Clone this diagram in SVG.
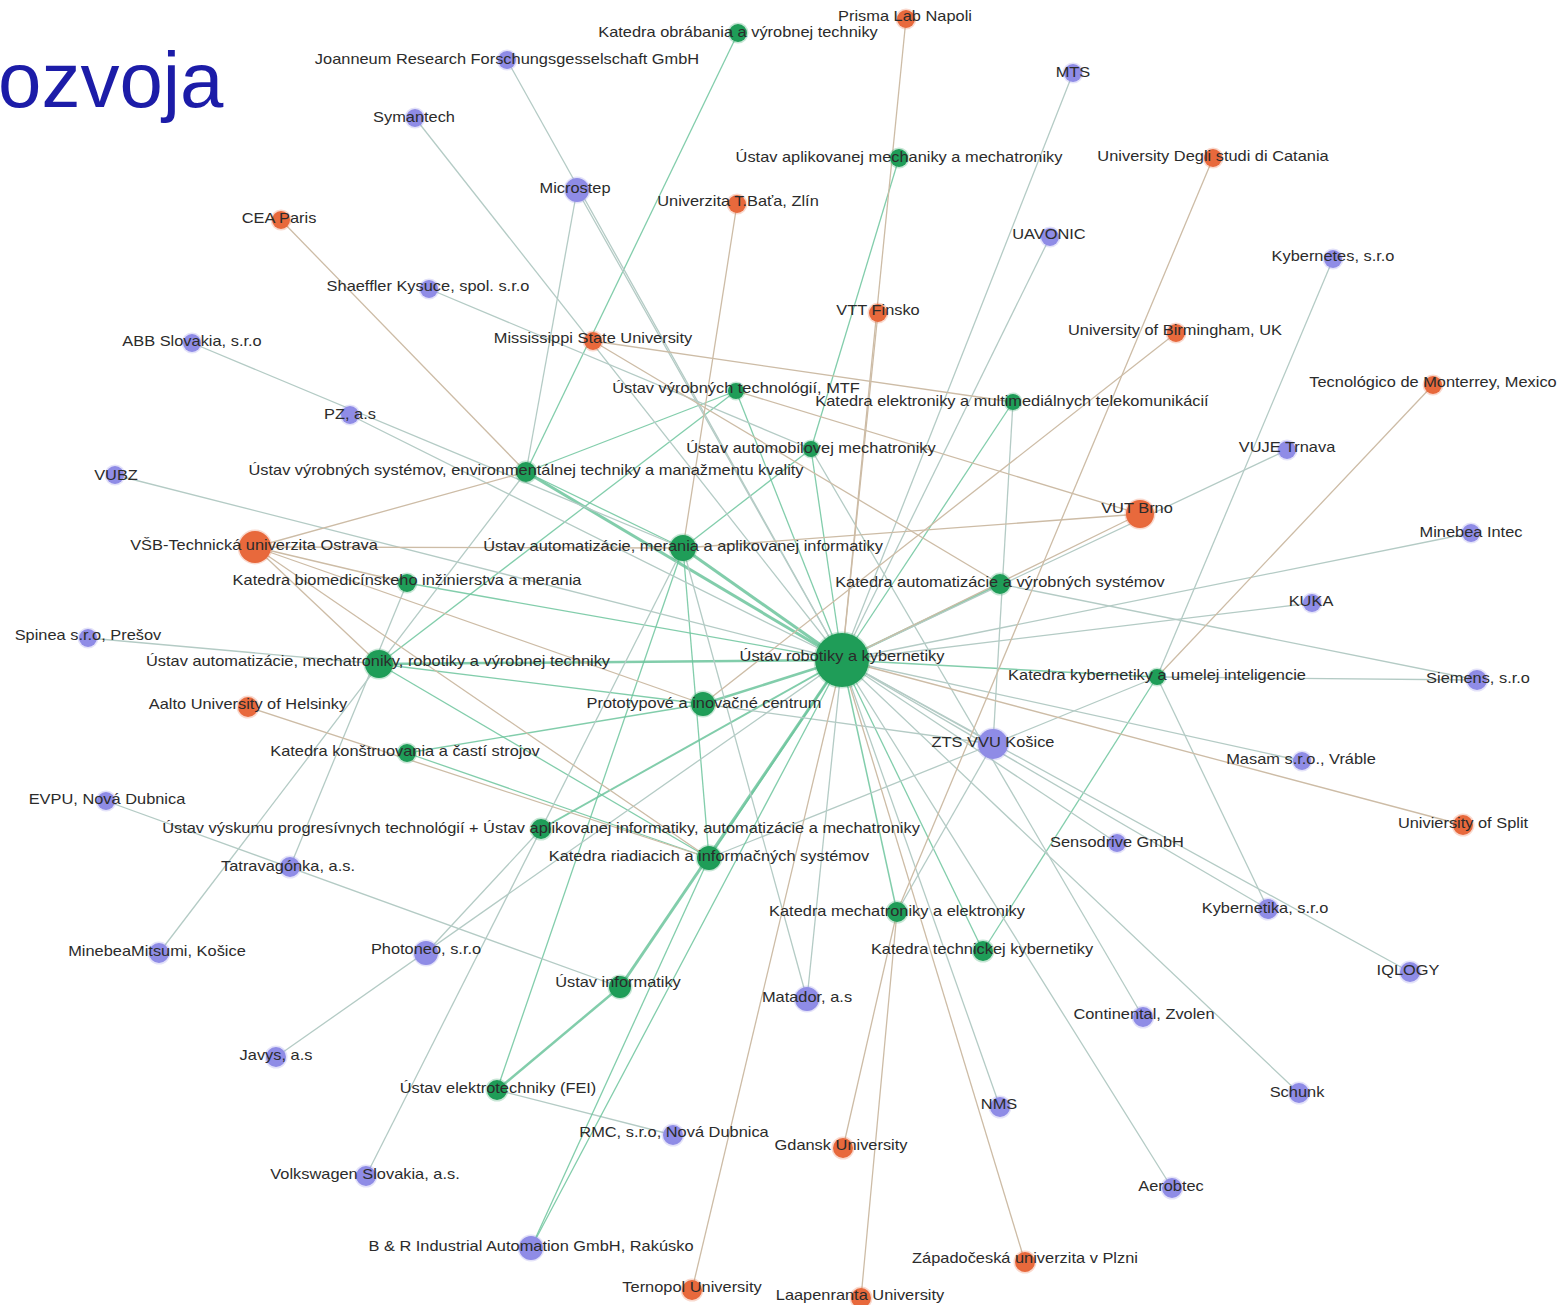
<svg xmlns="http://www.w3.org/2000/svg" width="1560" height="1305" viewBox="0 0 1560 1305">
<style>
.gg{stroke:#6cc49c;stroke-opacity:.85;stroke-width:1.3}
.gb{stroke:#b4cbc5;stroke-width:1.3}
.go{stroke:#cdbca6;stroke-width:1.3}
.ng{fill:#1f9d58;stroke:#1f9d58;stroke-opacity:.25;stroke-width:3}
.nb{fill:#8f8ce6;stroke:#8f8ce6;stroke-opacity:.25;stroke-width:3}
.no{fill:#e8693c;stroke:#e8693c;stroke-opacity:.25;stroke-width:3}
.lb{font-family:"Liberation Sans",Arial,sans-serif;font-size:14.5px;fill:#2b2b2b;text-anchor:middle}
.title{font-family:"Liberation Sans",Arial,sans-serif;font-size:78px;fill:#1c1ca8}
</style>
<rect width="1560" height="1305" fill="#ffffff"/>
<text class="title" x="-2" y="107">ozvoja</text>
<g id="connectors">
<line class="gg" style="stroke-width:3" x1="842" y1="660" x2="526" y2="472"/>
<line class="gg" style="stroke-width:3" x1="842" y1="660" x2="683" y2="548"/>
<line class="gg" style="stroke-width:2.5" x1="842" y1="660" x2="379" y2="664"/>
<line class="gg" style="stroke-width:2.5" x1="842" y1="660" x2="703" y2="704"/>
<line class="gg" style="stroke-width:3" x1="842" y1="660" x2="620" y2="987"/>
<line class="gg" style="stroke-width:2.5" x1="620" y1="987" x2="497" y2="1090"/>
<line class="gg" style="stroke-width:2" x1="842" y1="660" x2="541" y2="829"/>
<line class="gg" style="stroke-width:2" x1="842" y1="660" x2="1000" y2="584"/>
<line class="gg" style="stroke-width:1.5" x1="842" y1="660" x2="1157" y2="677"/>
<line class="gg" style="stroke-width:1.5" x1="842" y1="660" x2="709" y2="858"/>
<line class="gg" style="stroke-width:1.5" x1="842" y1="660" x2="897" y2="912"/>
<line class="gg" x1="842" y1="660" x2="811" y2="449"/>
<line class="gg" x1="842" y1="660" x2="407" y2="583"/>
<line class="gg" x1="842" y1="660" x2="983" y2="951"/>
<line class="gg" x1="842" y1="660" x2="736" y2="391"/>
<line class="gg" x1="842" y1="660" x2="1013" y2="402"/>
<line class="gg" x1="738" y1="33" x2="526" y2="472"/>
<line class="gg" x1="899" y1="158" x2="811" y2="449"/>
<line class="gg" x1="736" y1="391" x2="526" y2="472"/>
<line class="gg" x1="736" y1="391" x2="379" y2="664"/>
<line class="gg" x1="811" y1="449" x2="683" y2="548"/>
<line class="gg" x1="526" y1="472" x2="683" y2="548"/>
<line class="gg" x1="683" y1="548" x2="497" y2="1090"/>
<line class="gg" x1="683" y1="548" x2="709" y2="858"/>
<line class="gg" x1="379" y1="664" x2="703" y2="704"/>
<line class="gg" x1="379" y1="664" x2="709" y2="858"/>
<line class="gg" x1="407" y1="753" x2="703" y2="704"/>
<line class="gg" x1="407" y1="753" x2="709" y2="858"/>
<line class="gg" x1="1157" y1="677" x2="983" y2="951"/>
<line class="gb" x1="507" y1="60" x2="842" y2="660"/>
<line class="gb" x1="415" y1="118" x2="842" y2="660"/>
<line class="gb" x1="577" y1="190" x2="842" y2="660"/>
<line class="gb" x1="577" y1="190" x2="526" y2="472"/>
<line class="gb" x1="429" y1="289" x2="811" y2="449"/>
<line class="gb" x1="192" y1="343" x2="683" y2="548"/>
<line class="gb" x1="350" y1="415" x2="842" y2="660"/>
<line class="gb" x1="115" y1="475" x2="842" y2="660"/>
<line class="gb" x1="1073" y1="73" x2="842" y2="660"/>
<line class="gb" x1="1050" y1="237" x2="842" y2="660"/>
<line class="gb" x1="1333" y1="259" x2="1157" y2="677"/>
<line class="gb" x1="1287" y1="450" x2="842" y2="660"/>
<line class="gb" x1="1471" y1="533" x2="842" y2="660"/>
<line class="gb" x1="1312" y1="603" x2="842" y2="660"/>
<line class="gb" x1="1477" y1="680" x2="1157" y2="677"/>
<line class="gb" x1="1477" y1="680" x2="1000" y2="584"/>
<line class="gb" x1="88" y1="638" x2="379" y2="664"/>
<line class="gb" x1="993" y1="744" x2="842" y2="660"/>
<line class="gb" x1="993" y1="744" x2="1013" y2="402"/>
<line class="gb" x1="993" y1="744" x2="1157" y2="677"/>
<line class="gb" x1="993" y1="744" x2="703" y2="704"/>
<line class="gb" x1="993" y1="744" x2="709" y2="858"/>
<line class="gb" x1="993" y1="744" x2="897" y2="912"/>
<line class="gb" x1="1302" y1="761" x2="842" y2="660"/>
<line class="gb" x1="106" y1="801" x2="620" y2="987"/>
<line class="gb" x1="1117" y1="843" x2="842" y2="660"/>
<line class="gb" x1="290" y1="867" x2="407" y2="583"/>
<line class="gb" x1="1268" y1="909" x2="1157" y2="677"/>
<line class="gb" x1="1268" y1="909" x2="842" y2="660"/>
<line class="gb" x1="159" y1="953" x2="526" y2="472"/>
<line class="gb" x1="426" y1="953" x2="541" y2="829"/>
<line class="gb" x1="1410" y1="972" x2="842" y2="660"/>
<line class="gb" x1="807" y1="999" x2="842" y2="660"/>
<line class="gb" x1="807" y1="999" x2="683" y2="548"/>
<line class="gb" x1="1143" y1="1017" x2="811" y2="449"/>
<line class="gb" x1="276" y1="1057" x2="842" y2="660"/>
<line class="gb" x1="1000" y1="1107" x2="842" y2="660"/>
<line class="gb" x1="1299" y1="1093" x2="842" y2="660"/>
<line class="gb" x1="673" y1="1135" x2="497" y2="1090"/>
<line class="gb" x1="366" y1="1176" x2="683" y2="548"/>
<line class="gb" x1="1172" y1="1188" x2="842" y2="660"/>
<line class="gg" x1="531" y1="1248" x2="709" y2="858"/>
<line class="gg" x1="531" y1="1248" x2="842" y2="660"/>
<line class="go" x1="906" y1="19" x2="842" y2="660"/>
<line class="go" x1="1213" y1="158" x2="897" y2="912"/>
<line class="go" x1="737" y1="204" x2="683" y2="548"/>
<line class="go" x1="281" y1="220" x2="526" y2="472"/>
<line class="go" x1="878" y1="313" x2="842" y2="660"/>
<line class="go" x1="593" y1="341" x2="1013" y2="402"/>
<line class="go" x1="593" y1="341" x2="1000" y2="584"/>
<line class="go" x1="1176" y1="333" x2="703" y2="704"/>
<line class="go" x1="1433" y1="385" x2="1157" y2="677"/>
<line class="go" x1="1140" y1="514" x2="736" y2="391"/>
<line class="go" x1="1140" y1="514" x2="683" y2="548"/>
<line class="go" x1="1140" y1="514" x2="842" y2="660"/>
<line class="go" x1="255" y1="547" x2="526" y2="472"/>
<line class="go" x1="255" y1="547" x2="683" y2="548"/>
<line class="go" x1="255" y1="547" x2="379" y2="664"/>
<line class="go" x1="255" y1="547" x2="703" y2="704"/>
<line class="go" x1="255" y1="547" x2="709" y2="858"/>
<line class="go" x1="255" y1="547" x2="407" y2="583"/>
<line class="go" x1="248" y1="707" x2="709" y2="858"/>
<line class="go" x1="1463" y1="825" x2="842" y2="660"/>
<line class="go" x1="843" y1="1148" x2="897" y2="912"/>
<line class="go" x1="1025" y1="1262" x2="842" y2="660"/>
<line class="go" x1="692" y1="1290" x2="842" y2="660"/>
<line class="go" x1="861" y1="1298" x2="897" y2="912"/>
</g>
<g id="n-obrabania"><circle class="ng" cx="738" cy="33" r="9"/><text class="lb" transform="translate(738,37) scale(1.13,1)">Katedra obrábania a výrobnej techniky</text></g>
<g id="n-aplmech"><circle class="ng" cx="899" cy="158" r="9"/><text class="lb" transform="translate(899,162) scale(1.13,1)">Ústav aplikovanej mechaniky a mechatroniky</text></g>
<g id="n-mtf"><circle class="ng" cx="736" cy="391" r="8"/><text class="lb" transform="translate(736,393) scale(1.13,1)">Ústav výrobných technológií, MTF</text></g>
<g id="n-elektroniky"><circle class="ng" cx="1013" cy="402" r="8"/><text class="lb" transform="translate(1012,406) scale(1.13,1)">Katedra elektroniky a multimediálnych telekomunikácií</text></g>
<g id="n-automob"><circle class="ng" cx="811" cy="449" r="8"/><text class="lb" transform="translate(811,453) scale(1.13,1)">Ústav automobilovej mechatroniky</text></g>
<g id="n-vyrsys"><circle class="ng" cx="526" cy="472" r="10"/><text class="lb" transform="translate(526,475) scale(1.13,1)">Ústav výrobných systémov, environmentálnej techniky a manažmentu kvality</text></g>
<g id="n-autmer"><circle class="ng" cx="683" cy="548" r="13"/><text class="lb" transform="translate(683,551) scale(1.13,1)">Ústav automatizácie, merania a aplikovanej informatiky</text></g>
<g id="n-biomed"><circle class="ng" cx="407" cy="583" r="9"/><text class="lb" transform="translate(407,585) scale(1.13,1)">Katedra biomedicínskeho inžinierstva a merania</text></g>
<g id="n-autvyr"><circle class="ng" cx="1000" cy="584" r="10"/><text class="lb" transform="translate(1000,587) scale(1.13,1)">Katedra automatizácie a výrobných systémov</text></g>
<g id="n-autmech"><circle class="ng" cx="379" cy="664" r="14"/><text class="lb" transform="translate(378,666) scale(1.13,1)">Ústav automatizácie, mechatroniky, robotiky a výrobnej techniky</text></g>
<g id="n-robotiky"><circle class="ng" cx="842" cy="660" r="27"/><text class="lb" transform="translate(842,661) scale(1.13,1)">Ústav robotiky a kybernetiky</text></g>
<g id="n-proto"><circle class="ng" cx="703" cy="704" r="12"/><text class="lb" transform="translate(704,708) scale(1.13,1)">Prototypové a inovačné centrum</text></g>
<g id="n-kyber"><circle class="ng" cx="1157" cy="677" r="8"/><text class="lb" transform="translate(1157,680) scale(1.13,1)">Katedra kybernetiky a umelej inteligencie</text></g>
<g id="n-konstr"><circle class="ng" cx="407" cy="753" r="9"/><text class="lb" transform="translate(405,756) scale(1.13,1)">Katedra konštruovania a častí strojov</text></g>
<g id="n-vyskum"><circle class="ng" cx="541" cy="829" r="10"/><text class="lb" transform="translate(541,833) scale(1.13,1)">Ústav výskumu progresívnych technológií + Ústav aplikovanej informatiky, automatizácie a mechatroniky</text></g>
<g id="n-riad"><circle class="ng" cx="709" cy="858" r="12"/><text class="lb" transform="translate(709,861) scale(1.13,1)">Katedra riadiacich a informačných systémov</text></g>
<g id="n-mechel"><circle class="ng" cx="897" cy="912" r="10"/><text class="lb" transform="translate(897,916) scale(1.13,1)">Katedra mechatroniky a elektroniky</text></g>
<g id="n-techkyb"><circle class="ng" cx="983" cy="951" r="10"/><text class="lb" transform="translate(982,954) scale(1.13,1)">Katedra technickej kybernetiky</text></g>
<g id="n-inform"><circle class="ng" cx="620" cy="987" r="11"/><text class="lb" transform="translate(618,987) scale(1.13,1)">Ústav informatiky</text></g>
<g id="n-elektrot"><circle class="ng" cx="497" cy="1090" r="10"/><text class="lb" transform="translate(498,1093) scale(1.13,1)">Ústav elektrotechniky (FEI)</text></g>
<g id="n-joan"><circle class="nb" cx="507" cy="60" r="9"/><text class="lb" transform="translate(507,64) scale(1.13,1)">Joanneum Research Forschungsgesselschaft GmbH</text></g>
<g id="n-sym"><circle class="nb" cx="415" cy="118" r="9"/><text class="lb" transform="translate(414,122) scale(1.13,1)">Symantech</text></g>
<g id="n-micro"><circle class="nb" cx="577" cy="190" r="12"/><text class="lb" transform="translate(575,193) scale(1.13,1)">Microstep</text></g>
<g id="n-shaef"><circle class="nb" cx="429" cy="289" r="9"/><text class="lb" transform="translate(428,291) scale(1.13,1)">Shaeffler Kysuce, spol. s.r.o</text></g>
<g id="n-abb"><circle class="nb" cx="192" cy="343" r="9"/><text class="lb" transform="translate(192,346) scale(1.13,1)">ABB Slovakia, s.r.o</text></g>
<g id="n-pz"><circle class="nb" cx="350" cy="415" r="9"/><text class="lb" transform="translate(350,419) scale(1.13,1)">PZ, a.s</text></g>
<g id="n-vubz"><circle class="nb" cx="115" cy="475" r="9"/><text class="lb" transform="translate(116,480) scale(1.13,1)">VUBZ</text></g>
<g id="n-mts"><circle class="nb" cx="1073" cy="73" r="9"/><text class="lb" transform="translate(1073,77) scale(1.13,1)">MTS</text></g>
<g id="n-uav"><circle class="nb" cx="1050" cy="237" r="9"/><text class="lb" transform="translate(1049,239) scale(1.13,1)">UAVONIC</text></g>
<g id="n-kybs"><circle class="nb" cx="1333" cy="259" r="9"/><text class="lb" transform="translate(1333,261) scale(1.13,1)">Kybernetes, s.r.o</text></g>
<g id="n-vuje"><circle class="nb" cx="1287" cy="450" r="9"/><text class="lb" transform="translate(1287,452) scale(1.13,1)">VUJE Trnava</text></g>
<g id="n-minint"><circle class="nb" cx="1471" cy="533" r="9"/><text class="lb" transform="translate(1471,537) scale(1.13,1)">Minebea Intec</text></g>
<g id="n-kuka"><circle class="nb" cx="1312" cy="603" r="9"/><text class="lb" transform="translate(1311,606) scale(1.13,1)">KUKA</text></g>
<g id="n-siem"><circle class="nb" cx="1477" cy="680" r="10"/><text class="lb" transform="translate(1478,683) scale(1.13,1)">Siemens, s.r.o</text></g>
<g id="n-spin"><circle class="nb" cx="88" cy="638" r="9"/><text class="lb" transform="translate(88,640) scale(1.13,1)">Spinea s.r.o, Prešov</text></g>
<g id="n-zts"><circle class="nb" cx="993" cy="744" r="15"/><text class="lb" transform="translate(993,747) scale(1.13,1)">ZTS VVU Košice</text></g>
<g id="n-masam"><circle class="nb" cx="1302" cy="761" r="9"/><text class="lb" transform="translate(1301,764) scale(1.13,1)">Masam s.r.o., Vráble</text></g>
<g id="n-evpu"><circle class="nb" cx="106" cy="801" r="9"/><text class="lb" transform="translate(107,804) scale(1.13,1)">EVPU, Nová Dubnica</text></g>
<g id="n-senso"><circle class="nb" cx="1117" cy="843" r="9"/><text class="lb" transform="translate(1117,847) scale(1.13,1)">Sensodrive GmbH</text></g>
<g id="n-tatra"><circle class="nb" cx="290" cy="867" r="10"/><text class="lb" transform="translate(288,871) scale(1.13,1)">Tatravagónka, a.s.</text></g>
<g id="n-kybka"><circle class="nb" cx="1268" cy="909" r="10"/><text class="lb" transform="translate(1265,913) scale(1.13,1)">Kybernetika, s.r.o</text></g>
<g id="n-minmit"><circle class="nb" cx="159" cy="953" r="10"/><text class="lb" transform="translate(157,956) scale(1.13,1)">MinebeaMitsumi, Košice</text></g>
<g id="n-photo"><circle class="nb" cx="426" cy="953" r="12"/><text class="lb" transform="translate(426,954) scale(1.13,1)">Photoneo, s.r.o</text></g>
<g id="n-iqlogy"><circle class="nb" cx="1410" cy="972" r="10"/><text class="lb" transform="translate(1408,975) scale(1.13,1)">IQLOGY</text></g>
<g id="n-matador"><circle class="nb" cx="807" cy="999" r="12"/><text class="lb" transform="translate(807,1002) scale(1.13,1)">Matador, a.s</text></g>
<g id="n-conti"><circle class="nb" cx="1143" cy="1017" r="10"/><text class="lb" transform="translate(1144,1019) scale(1.13,1)">Continental, Zvolen</text></g>
<g id="n-javys"><circle class="nb" cx="276" cy="1057" r="10"/><text class="lb" transform="translate(276,1060) scale(1.13,1)">Javys, a.s</text></g>
<g id="n-nms"><circle class="nb" cx="1000" cy="1107" r="10"/><text class="lb" transform="translate(999,1109) scale(1.13,1)">NMS</text></g>
<g id="n-schunk"><circle class="nb" cx="1299" cy="1093" r="10"/><text class="lb" transform="translate(1297,1097) scale(1.13,1)">Schunk</text></g>
<g id="n-rmc"><circle class="nb" cx="673" cy="1135" r="10"/><text class="lb" transform="translate(674,1137) scale(1.13,1)">RMC, s.r.o, Nová Dubnica</text></g>
<g id="n-vw"><circle class="nb" cx="366" cy="1176" r="10"/><text class="lb" transform="translate(365,1179) scale(1.13,1)">Volkswagen Slovakia, a.s.</text></g>
<g id="n-aero"><circle class="nb" cx="1172" cy="1188" r="10"/><text class="lb" transform="translate(1171,1191) scale(1.13,1)">Aerobtec</text></g>
<g id="n-br"><circle class="nb" cx="531" cy="1248" r="12"/><text class="lb" transform="translate(531,1251) scale(1.13,1)">B &amp; R Industrial Automation GmbH, Rakúsko</text></g>
<g id="n-prisma"><circle class="no" cx="906" cy="19" r="9"/><text class="lb" transform="translate(905,21) scale(1.13,1)">Prisma Lab Napoli</text></g>
<g id="n-catania"><circle class="no" cx="1213" cy="158" r="9"/><text class="lb" transform="translate(1213,161) scale(1.13,1)">University Degli studi di Catania</text></g>
<g id="n-bata"><circle class="no" cx="737" cy="204" r="9"/><text class="lb" transform="translate(738,206) scale(1.13,1)">Univerzita T.Baťa, Zlín</text></g>
<g id="n-cea"><circle class="no" cx="281" cy="220" r="9"/><text class="lb" transform="translate(279,223) scale(1.13,1)">CEA Paris</text></g>
<g id="n-vtt"><circle class="no" cx="878" cy="313" r="9"/><text class="lb" transform="translate(878,315) scale(1.13,1)">VTT Finsko</text></g>
<g id="n-miss"><circle class="no" cx="593" cy="341" r="9"/><text class="lb" transform="translate(593,343) scale(1.13,1)">Mississippi State University</text></g>
<g id="n-birm"><circle class="no" cx="1176" cy="333" r="9"/><text class="lb" transform="translate(1175,335) scale(1.13,1)">University of Birmingham, UK</text></g>
<g id="n-monter"><circle class="no" cx="1433" cy="385" r="9"/><text class="lb" transform="translate(1433,387) scale(1.13,1)">Tecnológico de Monterrey, Mexico</text></g>
<g id="n-vut"><circle class="no" cx="1140" cy="514" r="14"/><text class="lb" transform="translate(1137,513) scale(1.13,1)">VUT Brno</text></g>
<g id="n-vsb"><circle class="no" cx="255" cy="547" r="16"/><text class="lb" transform="translate(254,550) scale(1.13,1)">VŠB-Technická univerzita Ostrava</text></g>
<g id="n-aalto"><circle class="no" cx="248" cy="707" r="10"/><text class="lb" transform="translate(248,709) scale(1.13,1)">Aalto University of Helsinky</text></g>
<g id="n-split"><circle class="no" cx="1463" cy="825" r="10"/><text class="lb" transform="translate(1463,828) scale(1.13,1)">Univiersity of Split</text></g>
<g id="n-gdansk"><circle class="no" cx="843" cy="1148" r="10"/><text class="lb" transform="translate(841,1150) scale(1.13,1)">Gdansk University</text></g>
<g id="n-zcu"><circle class="no" cx="1025" cy="1262" r="10"/><text class="lb" transform="translate(1025,1263) scale(1.13,1)">Západočeská univerzita v Plzni</text></g>
<g id="n-tern"><circle class="no" cx="692" cy="1290" r="10"/><text class="lb" transform="translate(692,1292) scale(1.13,1)">Ternopol University</text></g>
<g id="n-laap"><circle class="no" cx="861" cy="1298" r="10"/><text class="lb" transform="translate(860,1300) scale(1.13,1)">Laapenranta University</text></g>
</svg>
